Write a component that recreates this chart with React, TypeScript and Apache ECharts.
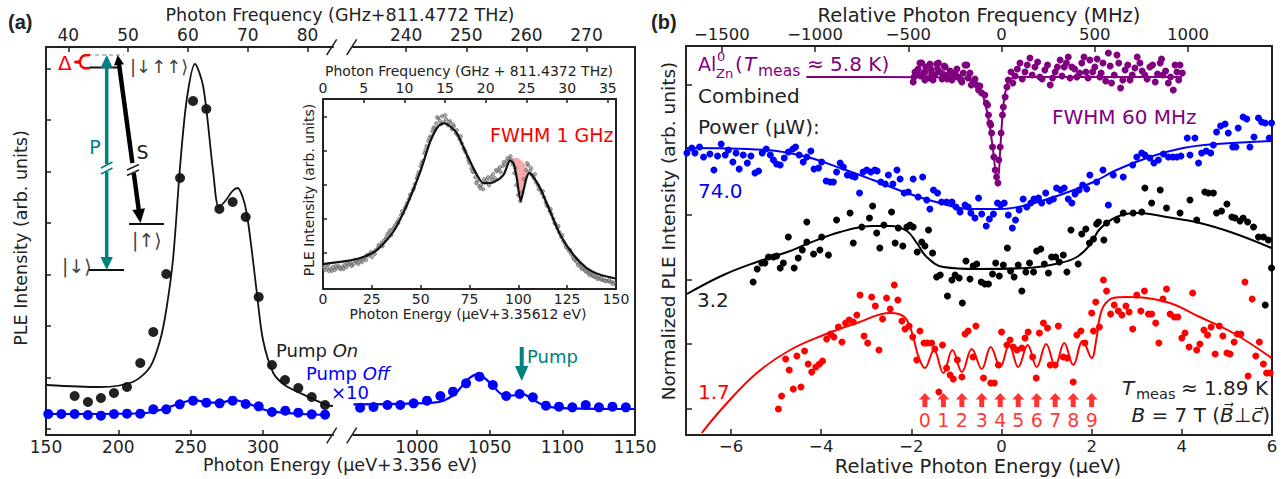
import React, { useEffect, useRef } from "react";
import * as echarts from "echarts";

const FONT = '"DejaVu Sans", "Liberation Sans", sans-serif';
const INK = "#222";
const TEAL = "#008080";
const PURPLE = "#800080";
const BLUE = "#0000ff";
const RED = "#ff0000";
const GHZ_PER_UEV = 0.2418;
const MHZ_PER_UEV = 241.8;

// ---------------- Panel (a): Photon Energy (µeV + 3.356 eV) vs PLE intensity (arb. units)
const aOnEnergy = [169.8, 179.0, 188.0, 197.0, 206.0, 215.2, 224.2, 233.2, 242.7, 251.7, 260.9, 269.9, 279.1, 288.1, 297.1, 306.3, 315.3, 324.5, 333.8, 343.0];
const aOnInt = [39, 33, 37, 42, 48, 72, 103, 161, 257, 334, 326, 226, 233, 218, 138, 70, 55, 47, 38, 30];
const aOnFit = [[150.5, 50], [187, 48], [210, 53], [222, 68], [229, 95], [233.5, 128], [238, 178], [242.7, 268], [247.3, 335], [253, 371], [258.8, 348], [265.7, 262], [269.5, 228], [274, 234], [279, 244], [282.6, 247], [286, 238], [288.8, 222], [292.3, 185], [296, 140], [300.1, 95], [307.2, 62], [315, 50], [325.7, 42], [344, 30], [348.5, 29]];

const aOffLeftEnergy = [151.6, 160.6, 169.8, 179.0, 188.0, 197.0, 206.0, 215.2, 224.2, 233.2, 242.5, 251.7, 260.9, 270.1, 279.1, 288.1, 297.1, 306.3, 315.5, 324.5, 333.8, 343.0];
const aOffLeftInt = [21, 21, 21, 20, 19.3, 21, 21.3, 21.3, 25.7, 25.7, 30.7, 34.3, 32.3, 31.7, 34.3, 31, 28.7, 23, 24.3, 22.3, 20.7, 20.3];
const aOffLeftFit = [[150, 21], [215, 21.5], [229, 25], [243, 31.7], [252, 35], [261, 32.7], [270, 32.3], [279.5, 35], [289, 31.7], [298, 26.7], [307, 23.3], [326, 21], [346, 20]];

const aOffRightEnergy = [960.9, 970.1, 979.7, 988.5, 997.7, 1006.9, 1016.1, 1024.8, 1033.8, 1043.0, 1052.2, 1061.4, 1070.6, 1079.7, 1088.7, 1097.7, 1106.9, 1116.1, 1125.2, 1134.5, 1143.7];
const aOffRightInt = [27.3, 28, 30, 30, 31.7, 34.3, 39, 43.3, 51.7, 58.3, 50, 39, 41, 37.7, 29.3, 28.3, 27.7, 30, 27.7, 28.3, 27.7];
const aOffRightFit = [[956.3, 30.7], [1011.4, 32.3], [1025.2, 40], [1034.5, 55], [1041.4, 60.7], [1050.6, 51.7], [1059.7, 40], [1066, 39.5], [1071.2, 41.7], [1080.4, 35], [1089.7, 28.3], [1103.5, 26.7], [1150, 26]];

const aYTicks = [6, 57.5, 109, 160.5, 212, 263.5, 315, 366.5];
const aBottomTicksL = [150, 200, 250, 300];
const aBottomTicksR = [1000, 1050, 1100, 1150];
const aTopTicksL = [40, 50, 60, 70, 80];
const aTopTicksR = [240, 250, 260, 270];

// ---------------- Inset: Photon Energy (µeV + 3.35612 eV)
const inEnergyTicks = [0, 25, 50, 75, 100, 125, 150];
const inFreqTicks = [0, 5, 10, 15, 20, 25, 30, 35];
const inYTicks = [36, 70.3, 104.5, 138.7, 172.9];
const inFit = [[0, 25], [10.6, 27.6], [19.1, 31], [27.6, 39], [36.1, 57.6], [43, 84.3], [49.8, 117.6], [54.9, 147.6], [59, 163], [62, 166], [65, 163], [68.5, 156], [73.7, 134.3], [78.8, 114.3], [82.2, 106], [87.3, 107], [92.4, 114.3], [95.8, 128.5], [97.5, 126], [99.2, 111], [101.2, 88], [102.8, 100], [104.3, 112], [105.6, 116], [107, 114], [111.2, 101], [116.3, 77.6], [121.4, 54.3], [128.2, 34.3], [135, 21], [141.9, 14.3], [148.7, 11], [150, 10.5]];
const inDipUpper = [[95.3, 127.5], [97.5, 131], [99.5, 131.5], [101.5, 129], [103.5, 124.3], [105.6, 116]];
const inDipLower = [[95.3, 127.5], [97.5, 126], [99.2, 111], [101.2, 88], [102.8, 100], [104.3, 112], [105.6, 116]];
const inPoints = [
  [1, 19], [2, 21], [3, 18], [4, 20], [5, 22], [6, 19], [7, 21], [8, 23], [9, 20], [10, 22], [11, 24], [12, 22], [13, 25], [14, 27], [15, 24], [16, 26], [17, 28], [18, 25], [19, 29], [20, 27],
  [21, 31], [22, 29], [23, 33], [24, 35], [25, 32], [26, 37], [27, 39], [28, 41], [29, 43], [30, 46], [31, 48], [32, 50], [33, 55], [34, 57], [35, 54], [36, 60], [37, 64], [38, 67], [39, 70], [40, 74],
  [41, 76], [42, 81], [43, 86], [44, 90], [45, 95], [46, 99], [47, 105], [48, 111], [49, 117], [50, 123], [51, 128], [52, 136], [53, 143], [54, 148], [55, 153], [56, 158], [57, 162], [58, 166], [59, 171], [60, 168],
  [61, 173], [62, 167], [63, 170], [64, 164], [65, 168], [66, 160], [67, 163], [68, 156], [69, 154], [70, 150], [71, 146], [72, 141], [73, 137], [74, 132], [75, 126], [76, 121], [77, 117], [78, 112], [79, 108], [80, 103],
  [81, 104], [82, 100], [83, 107], [84, 109], [85, 104], [86, 112], [87, 115], [88, 111], [89, 118], [90, 120], [91, 117], [92, 123], [93, 125], [94, 128], [95, 130], [96, 133], [97, 125], [98, 116], [99, 104], [100, 94],
  [101, 88], [102, 97], [103, 110], [104, 119], [105, 124], [106, 118], [107, 114], [108, 111], [109, 107], [110, 104], [111, 100], [112, 96], [113, 92], [114, 87], [115, 83], [116, 78], [117, 75], [118, 70], [119, 65], [120, 61],
  [121, 57], [122, 52], [123, 48], [124, 45], [125, 41], [126, 38], [127, 35], [128, 32], [129, 29], [130, 27], [131, 25], [132, 22], [133, 21], [134, 19], [135, 17], [136, 16], [137, 15], [138, 13], [139, 12], [140, 12],
  [141, 11], [142, 10], [143, 9], [144, 9], [145, 8], [146, 8], [147, 7], [148, 7], [149, 6],
  [0.5, 22], [2.5, 24], [4.5, 18], [6.5, 23], [8.5, 21], [10.5, 20], [12.5, 26], [14.5, 23], [16.5, 29], [18.5, 27], [20.5, 30], [22.5, 34], [24.5, 37], [26.5, 35], [28.5, 44], [30.5, 43], [32.5, 52], [34.5, 59], [36.5, 62], [38.5, 66],
  [40.5, 78], [42.5, 83], [44.5, 94], [46.5, 101], [48.5, 114], [50.5, 126], [52.5, 139], [54.5, 151], [56.5, 161], [58.5, 172], [60.5, 165], [62.5, 174], [64.5, 167], [66.5, 165], [68.5, 159], [70.5, 153], [72.5, 139], [74.5, 129], [76.5, 118], [78.5, 106],
  [80.5, 101], [82.5, 110], [84.5, 112], [86.5, 109], [88.5, 119], [90.5, 122], [92.5, 127], [94.5, 131], [96.5, 129], [98.5, 121], [104.5, 126], [106.5, 121], [108.5, 115], [110.5, 100], [112.5, 98], [114.5, 84], [116.5, 80], [118.5, 66], [120.5, 63], [122.5, 54],
  [124.5, 42], [126.5, 39], [128.5, 30], [130.5, 24], [132.5, 20], [134.5, 18], [136.5, 14], [138.5, 14], [140.5, 10], [142.5, 11], [144.5, 8], [146.5, 9], [148.5, 5],
];

// ---------------- Panel (b): Relative Photon Energy (µeV) vs normalized PLE intensity
const bXTicks = [-6, -4, -2, 0, 2, 4, 6];
const bTopTicks = [-1500, -1000, -500, 0, 500, 1000];
const bYTicks = [26, 91, 155.5, 220, 285, 350];

const bPurple = [
  [-1.96, 353], [-1.92, 363], [-1.88, 362], [-1.81, 372], [-1.77, 372], [-1.73, 362], [-1.70, 363], [-1.70, 355], [-1.59, 371], [-1.55, 362], [-1.52, 355], [-1.44, 371], [-1.40, 372], [-1.36, 363], [-1.32, 356], [-1.25, 368], [-1.18, 360], [-1.10, 355], [-1.03, 362], [-0.96, 358],
  [-0.88, 353], [-0.81, 370], [-0.77, 370], [-0.70, 362], [-0.63, 353], [-0.55, 350], [-0.51, 345], [-0.44, 342], [-0.37, 340], [-0.34, 332], [-0.31, 330], [-0.29, 320], [-0.26, 312], [-0.24, 310], [-0.22, 302], [-0.20, 288], [-0.17, 278], [-0.14, 265], [-0.11, 258], [-0.08, 252],
  [-0.06, 275], [-0.03, 288], [-0.01, 302], [0.02, 320], [0.04, 328], [0.08, 338], [0.12, 348], [0.15, 355], [0.21, 363], [0.30, 359], [0.41, 372], [0.52, 363], [0.63, 377], [0.74, 368], [0.85, 358], [0.96, 365], [1.08, 350], [1.19, 363], [1.30, 375], [1.39, 368],
  [1.48, 378], [1.56, 368], [1.67, 358], [1.78, 372], [1.87, 363], [1.96, 375], [2.07, 368], [2.18, 358], [2.25, 372], [2.37, 382], [2.44, 352], [2.56, 380], [2.64, 347], [2.74, 365], [2.85, 355], [2.96, 367], [3.07, 372], [3.18, 360], [3.29, 368], [3.41, 353],
  [3.52, 372], [3.58, 360], [3.70, 352], [3.81, 345], [3.89, 363], [3.96, 370],
  [-1.94, 358], [-1.85, 366], [-1.79, 359], [-1.68, 368], [-1.62, 357], [-1.57, 366], [-1.48, 360], [-1.42, 366], [-1.30, 361], [-1.27, 369], [-1.21, 356], [-1.14, 364], [-1.06, 358], [-0.99, 366], [-0.92, 356], [-0.85, 362], [-0.74, 357], [-0.67, 350], [-0.59, 356], [-0.48, 349],
  [0.25, 352], [0.35, 366], [0.46, 356], [0.57, 370], [0.68, 360], [0.80, 373], [0.90, 356], [1.02, 370], [1.13, 357], [1.24, 368], [1.34, 359], [1.44, 372], [1.52, 357], [1.62, 366], [1.73, 362], [1.83, 378], [1.92, 357], [2.02, 363], [2.12, 376], [2.21, 362],
  [2.31, 354], [2.41, 369], [2.50, 360], [2.60, 372], [2.69, 355], [2.80, 370], [2.90, 360], [3.01, 378], [3.12, 364], [3.23, 356], [3.35, 370], [3.46, 361], [3.55, 376], [3.64, 364], [3.75, 358], [3.85, 370], [3.93, 355], [4.01, 362],
];
const bPurpleFit = [[-4.33, 358], [-1.0, 357.5], [-0.7, 355], [-0.55, 350], [-0.44, 343], [-0.33, 325], [-0.25, 305], [-0.18, 282], [-0.11, 258], [-0.06, 262], [-0.03, 285], [0.04, 330], [0.12, 350], [0.19, 356], [0.4, 358], [4.0, 358]];

const bBlue = [
  [-6.98, 282], [-6.87, 287], [-6.80, 282], [-6.70, 288], [-6.61, 278], [-6.47, 281], [-6.38, 265], [-6.30, 279], [-6.22, 291], [-6.13, 280], [-6.06, 285], [-5.96, 273], [-5.89, 282], [-5.82, 266], [-5.73, 280], [-5.64, 272], [-5.56, 279], [-5.47, 262], [-5.39, 264], [-5.31, 282],
  [-5.22, 286], [-5.13, 280], [-5.06, 275], [-4.99, 271], [-4.91, 270], [-4.82, 277], [-4.73, 283], [-4.63, 286], [-4.57, 288], [-4.49, 280], [-4.40, 273], [-4.32, 278], [-4.23, 284], [-4.16, 266], [-4.06, 267], [-3.99, 273], [-3.89, 254], [-3.80, 253], [-3.73, 253], [-3.66, 263],
  [-3.58, 272], [-3.51, 268], [-3.42, 260], [-3.32, 259], [-3.25, 258], [-3.15, 242], [-3.07, 263], [-2.99, 265], [-2.90, 263], [-2.81, 265], [-2.76, 264], [-2.68, 253], [-2.58, 251], [-2.51, 260], [-2.41, 251], [-2.32, 265], [-2.25, 256], [-2.16, 242], [-2.07, 243], [-1.96, 256],
  [-1.85, 238], [-1.75, 258], [-1.66, 235], [-1.59, 226], [-1.51, 245], [-1.42, 242], [-1.33, 233], [-1.22, 233], [-1.10, 233], [-1.01, 228], [-0.92, 223], [-0.81, 230], [-0.74, 228], [-0.68, 222], [-0.59, 217], [-0.51, 237], [-0.44, 221], [-0.34, 209], [-0.27, 216], [-0.18, 221],
  [-0.09, 232], [-0.02, 230], [0.06, 232], [0.15, 220], [0.24, 207], [0.31, 215], [0.39, 225], [0.48, 236], [0.56, 228], [0.65, 232], [0.72, 236], [0.82, 237], [0.89, 232], [0.98, 242], [1.06, 234], [1.15, 236], [1.22, 247], [1.31, 245], [1.39, 247], [1.48, 236],
  [1.56, 232], [1.63, 241], [1.72, 245], [1.80, 250], [1.89, 246], [1.96, 260], [2.11, 253], [2.25, 265], [2.37, 230], [2.48, 260], [2.70, 258], [2.91, 270], [3.00, 278], [3.11, 282], [3.18, 280], [3.29, 277], [3.38, 272], [3.48, 275], [3.59, 281], [3.70, 278],
  [3.80, 278], [3.89, 278], [3.98, 279], [4.12, 297], [4.18, 280], [4.29, 297], [4.37, 272], [4.44, 282], [4.54, 284], [4.64, 282], [4.70, 290], [4.77, 303], [4.86, 309], [4.96, 311], [5.03, 302], [5.13, 288], [5.20, 288], [5.25, 307], [5.36, 318], [5.44, 316],
  [5.51, 288], [5.60, 298], [5.70, 317], [5.77, 313], [5.85, 312], [5.94, 297], [5.99, 312],
];
const bBlueFit = [[-6.98, 287], [-5.21, 285], [-4.32, 278], [-3.58, 267], [-2.85, 255], [-2.10, 242], [-1.37, 232], [-0.70, 226], [-0.03, 226], [0.56, 230], [1.30, 240], [2.04, 253], [2.55, 265], [3.29, 278], [4.03, 287], [4.77, 291], [5.99, 294]];

const bBlack = [
  [-5.51, 153], [-5.42, 166], [-5.32, 172], [-5.25, 172], [-5.17, 178], [-5.06, 178], [-4.99, 179], [-4.91, 167], [-4.84, 172], [-4.73, 198], [-4.60, 167], [-4.51, 177], [-4.42, 185], [-4.32, 193], [-4.17, 181], [-4.32, 213], [-4.03, 185], [-3.99, 198], [-3.84, 180], [-3.66, 215],
  [-3.36, 222], [-3.29, 192], [-3.10, 208], [-2.93, 217], [-2.86, 229], [-2.77, 202], [-2.70, 187], [-2.61, 210], [-2.44, 223], [-2.36, 192], [-2.29, 207], [-2.19, 189], [-2.10, 208], [-2.03, 210], [-1.96, 208], [-1.87, 183], [-1.77, 193], [-1.70, 189], [-1.62, 205], [-1.53, 182],
  [-1.44, 158], [-1.36, 160], [-1.20, 139], [-1.10, 155], [-1.03, 160], [-0.94, 157], [-0.87, 132], [-0.79, 174], [-0.70, 156], [-0.63, 169], [-0.55, 171], [-0.45, 153], [-0.37, 151], [-0.29, 151], [-0.20, 161], [-0.13, 172], [-0.05, 159], [0.04, 170], [0.13, 187], [0.20, 164],
  [0.28, 158], [0.37, 170], [0.45, 144], [0.54, 163], [0.62, 172], [0.71, 163], [0.78, 184], [0.87, 186], [0.95, 171], [1.04, 162], [1.11, 178], [1.20, 178], [1.28, 173], [1.37, 180], [1.45, 163], [1.54, 205], [1.70, 171], [1.78, 201], [1.87, 206], [1.95, 192],
  [2.04, 196], [2.11, 211], [2.15, 213], [2.27, 195], [2.33, 212], [2.56, 215], [2.70, 222], [2.92, 222], [3.11, 223], [3.18, 247], [3.33, 232], [3.52, 245], [3.66, 227], [3.96, 222], [4.18, 235], [4.33, 215], [4.51, 243], [4.59, 242], [4.70, 242], [4.77, 222],
  [4.88, 224], [5.00, 231], [5.11, 218], [5.18, 217], [5.29, 214], [5.36, 217], [5.46, 213], [5.59, 208], [5.70, 198], [5.81, 198], [5.85, 130], [5.92, 195], [5.99, 167],
];
const bBlackFit = [[-6.98, 141], [-6.17, 160], [-5.43, 173], [-4.69, 184], [-4.32, 191], [-3.58, 203], [-2.85, 209], [-2.47, 209], [-2.10, 204], [-1.88, 192], [-1.66, 178], [-1.29, 168], [-0.55, 166], [0.56, 167], [1.30, 172], [1.67, 178], [1.96, 190], [2.18, 206], [2.55, 218], [3.00, 222], [3.66, 218], [4.40, 212], [5.14, 202], [5.99, 187]];

const bRed = [
  [-4.95, 26], [-4.88, 39], [-4.79, 76], [-4.71, 65], [-4.62, 46], [-4.54, 79], [-4.45, 48], [-4.37, 84], [-4.29, 71], [-4.21, 63], [-4.12, 68], [-4.04, 71], [-3.97, 74], [-3.88, 96], [-3.79, 101], [-3.72, 98], [-3.62, 108], [-3.54, 93], [-3.46, 112], [-3.38, 115],
  [-3.29, 113], [-3.21, 120], [-3.14, 140], [-3.05, 99], [-2.97, 92], [-2.88, 138], [-2.80, 129], [-2.72, 85], [-2.64, 116], [-2.55, 137], [-2.47, 126], [-2.38, 150], [-2.30, 135], [-2.21, 114], [-2.14, 106], [-2.05, 109], [-1.97, 98], [-1.88, 75], [-1.81, 104], [-1.72, 92],
  [-1.65, 92], [-1.55, 92], [-1.48, 86], [-1.39, 43], [-1.31, 90], [-1.22, 67], [-1.14, 60], [-1.07, 56], [-0.98, 75], [-0.88, 58], [-0.81, 101], [-0.74, 104], [-0.63, 78], [-0.57, 109], [-0.40, 57], [-0.24, 52], [-0.16, 52], [-0.07, 70], [0.00, 103], [0.12, 90],
  [0.19, 95], [0.26, 88], [0.34, 85], [0.45, 87], [0.52, 97], [0.59, 103], [0.69, 78], [0.77, 57], [0.84, 102], [0.93, 112], [1.02, 107], [1.08, 70], [1.19, 70], [1.26, 109], [1.37, 78], [1.46, 77], [1.59, 53], [1.67, 100], [1.76, 104], [1.85, 92],
  [2.00, 122], [2.04, 104], [2.09, 133], [2.17, 108], [2.26, 155], [2.33, 144], [2.42, 121], [2.50, 130], [2.59, 124], [2.67, 120], [2.76, 129], [2.83, 123], [2.91, 106], [3.00, 140], [3.09, 124], [3.17, 144], [3.26, 121], [3.33, 121], [3.42, 112], [3.49, 92],
  [3.58, 136], [3.66, 146], [3.74, 121], [3.83, 118], [3.91, 118], [4.00, 97], [4.07, 102], [4.16, 88], [4.24, 142], [4.33, 85], [4.40, 91], [4.49, 105], [4.57, 100], [4.65, 108], [4.74, 81], [4.83, 109], [4.91, 99], [5.00, 82], [5.07, 81], [5.16, 93],
  [5.23, 101], [5.31, 101], [5.40, 153], [5.47, 59], [5.56, 136], [5.64, 79], [5.72, 93], [5.81, 71], [5.88, 62], [5.96, 62],
];
const bRedFit = [[-6.65, 2], [-6.17, 28], [-5.43, 62], [-4.69, 85], [-3.95, 100], [-3.21, 112], [-2.47, 122], [-2.28, 121], [-2.10, 115], [-1.96, 98], [-1.84, 78], [-1.70, 67], [-1.50, 85], [-1.29, 62], [-1.09, 85], [-0.88, 63], [-0.66, 86], [-0.44, 66], [-0.24, 88], [-0.03, 68], [0.17, 90], [0.37, 68], [0.58, 90], [0.78, 68], [0.99, 91], [1.19, 69], [1.39, 92], [1.59, 70], [1.80, 94], [2.00, 77], [2.10, 95], [2.18, 118], [2.28, 130], [2.48, 137], [2.77, 138], [3.66, 133], [4.40, 118], [5.14, 102], [5.99, 77]];

const bArrowPos = [-1.70, -1.29, -0.88, -0.44, -0.03, 0.37, 0.78, 1.19, 1.59, 2.00];
const bArrowLabels = ["0", "1", "2", "3", "4", "5", "6", "7", "8", "9"];
const bArrowLevel = 35;

// ---------------- helpers
const zip = (xs: number[], ys: number[]) => xs.map((x, i) => [x, ys[i]]);
const fmt = (v: number) => (v < 0 ? "\u2212" + Math.abs(v) : String(v));
const axisLine = { show: true, onZero: false, lineStyle: { color: INK, width: 2 } };
const ticks = (vals: number[], len = 5) => ({ show: true, inside: true, length: len, customValues: vals, lineStyle: { color: INK, width: 1.5 } });
const labels = (vals: number[], size: number, margin: number) => ({ show: true, customValues: vals, fontSize: size, fontFamily: FONT, color: INK, margin, lineHeight: size, formatter: (v: number) => fmt(v) });
const off = { show: false };

const T = (x: number, y: number, text: string, o: any = {}) => ({
  type: "text",
  x,
  y,
  rotation: o.rotation || 0,
  silent: true,
  z: 100,
  style: {
    text,
    fill: o.color || INK,
    fontSize: o.size || 17,
    fontFamily: o.family || FONT,
    fontStyle: o.italic ? "italic" : "normal",
    fontWeight: o.bold ? "bold" : "normal",
    textAlign: o.align || "left",
    textVerticalAlign: "middle",
    rich: o.rich,
  },
});
const L = (x1: number, y1: number, x2: number, y2: number, color = INK, w = 1.5, dash?: number[]) => ({
  type: "line",
  silent: true,
  z: 100,
  shape: { x1, y1, x2, y2 },
  style: { stroke: color, lineWidth: w, lineDash: dash },
});
const P = (points: number[][], color: string) => ({ type: "polygon", silent: true, z: 100, shape: { points }, style: { fill: color } });

function buildOption(): any {
  const italicRich = (color: string, size: number) => ({
    i: { fontStyle: "italic", fontSize: size, fontFamily: FONT, fill: color },
  });

  const graphics: any[] = [
    // ---- panel (a) labels
    T(8, 22, "(a)", { bold: true, size: 20, family: '"Liberation Sans", Arial, sans-serif' }),
    T(340, 15, "Photon Frequency (GHz+811.4772 THz)", { align: "center", size: 17.5 }),
    T(340, 465, "Photon Energy (µeV+3.356 eV)", { align: "center", size: 17.5 }),
    T(21, 238, "PLE Intensity (arb. units)", { align: "center", size: 17.5, rotation: Math.PI / 2 }),
    T(276, 350, "Pump {i|On}", { size: 18, rich: italicRich(INK, 18) }),
    T(306, 373, "Pump {i|Off}", { size: 18, color: BLUE, rich: italicRich(BLUE, 18) }),
    T(331, 392, "×10", { size: 18, color: BLUE }),
    T(527, 356, "Pump", { size: 18, color: TEAL }),
    L(521.7, 347, 521.7, 368, TEAL, 4),
    P([[515, 366], [528.4, 366], [521.7, 381]], TEAL),
    // axis breaks
    L(326.7, 55, 336.7, 39.3, INK, 1.5),
    L(346.7, 55, 356.7, 39.3, INK, 1.5),
    L(326.7, 443.3, 336.7, 427.6, INK, 1.5),
    L(346.7, 443.3, 356.7, 427.6, INK, 1.5),
    // inset labels
    T(469, 71, "Photon Frequency (GHz + 811.4372 THz)", { align: "center", size: 14 }),
    T(468, 314, "Photon Energy (µeV+3.35612 eV)", { align: "center", size: 14 }),
    T(309, 190, "PLE Intensity (arb. units)", { align: "center", size: 14, rotation: Math.PI / 2 }),
    T(490, 135, "FWHM 1 GHz", { size: 19, color: RED }),
    // level diagram
    L(88, 55, 124, 55, "#aaa", 1.5, [4, 3]),
    L(89, 67.5, 121, 67.5, "#111", 2),
    L(129, 224, 164, 224, "#111", 2),
    L(88, 270, 124, 270, "#111", 2),
    {
      type: "polyline",
      silent: true,
      z: 100,
      shape: { points: [[90, 55], [84, 55.5], [81, 58], [80, 61], [75, 62], [80, 63], [81, 66], [84, 68], [90, 68]], smooth: 0.3 },
      style: { stroke: RED, lineWidth: 2.5, fill: "none" },
    },
    T(58, 63, "Δ", { size: 20, color: RED }),
    L(106.7, 64, 106.7, 261, TEAL, 3.5),
    P([[100.5, 68], [112.9, 68], [106.7, 55]], TEAL),
    P([[100.5, 257], [112.9, 257], [106.7, 270]], TEAL),
    L(106.7, 164, 106.7, 172, "#fff", 6),
    L(101, 168, 112.5, 162, TEAL, 1.5),
    L(101, 174, 112.5, 168, TEAL, 1.5),
    T(95, 147, "P", { size: 19, color: TEAL, align: "center" }),
    L(119, 64, 138.9, 211, "#000", 4.5),
    P([[124, 64.2], [114.1, 65.6], [117.7, 55]], "#000"),
    P([[145, 208.3], [132.4, 209.9], [140.5, 223]], "#000"),
    L(132.8, 163, 133.9, 173, "#fff", 7),
    L(127, 170, 139, 164.5, INK, 1.5),
    L(127, 175.5, 139, 170, INK, 1.5),
    T(142.5, 152, "S", { size: 19, color: INK, align: "center" }),
    T(130, 66, "|↓↑↑⟩", { size: 18, color: "#444" }),
    T(132, 240, "|↑⟩", { size: 19, color: "#444" }),
    T(62, 266, "|↓⟩", { size: 19, color: "#444" }),

    // ---- panel (b) labels
    T(651, 22, "(b)", { bold: true, size: 20, family: '"Liberation Sans", Arial, sans-serif' }),
    T(979, 15, "Relative Photon Frequency (MHz)", { align: "center", size: 19.5 }),
    T(978, 466, "Relative Photon Energy (µeV)", { align: "center", size: 19.5 }),
    T(668, 231, "Normalized PLE Intensity (arb. units)", { align: "center", size: 18.5, rotation: Math.PI / 2 }),
    T(698, 64, "Al", { size: 19, color: PURPLE }),
    T(717, 56, "0", { size: 13, color: PURPLE }),
    T(716, 73, "Zn", { size: 13, color: PURPLE }),
    T(735, 64, "(", { size: 20, color: PURPLE }),
    T(744, 64, "T", { size: 20, color: PURPLE, italic: true }),
    T(758, 71, "meas", { size: 15.5, color: PURPLE }),
    T(807, 64, "≈ 5.8 K)", { size: 20, color: PURPLE }),
    T(698, 96, "Combined", { size: 20 }),
    T(698, 127, "Power (µW):", { size: 20 }),
    T(698, 191, "74.0", { size: 20, color: BLUE }),
    T(1052, 117, "FWHM 60 MHz", { size: 20, color: PURPLE }),
    T(697, 300, "3.2", { size: 20 }),
    T(698, 392, "1.7", { size: 20, color: RED }),
    T(1268, 388, "≈ 1.89 K", { size: 20, align: "right" }),
    T(1136, 394, "meas", { size: 14.5 }),
    T(1122, 388, "T", { size: 20, italic: true }),
    T(1270, 415, "{i|B} = 7 T ({i|B\u20D7}⊥{i|c\u20D7})", { size: 20, align: "right", rich: italicRich(INK, 20) }),
  ];

  const scat = (x: number, y: number, data: any[], color: string, size: number, extra: any = {}) => ({
    type: "scatter",
    xAxisIndex: x,
    yAxisIndex: y,
    data,
    symbolSize: size,
    silent: true,
    itemStyle: { color, opacity: 1 },
    ...extra,
  });
  const line = (x: number, y: number, data: any[], color: string, width: number, smooth: number | boolean = 0.3) => ({
    type: "line",
    xAxisIndex: x,
    yAxisIndex: y,
    data,
    symbol: "none",
    smooth,
    silent: true,
    lineStyle: { color, width },
  });

  return {
    animation: false,
    backgroundColor: "#fff",
    grid: [
      { left: 46, top: 47, width: 287, height: 388, containLabel: false, outerBoundsMode: "none" },
      { left: 353, top: 47, width: 282, height: 388, containLabel: false, outerBoundsMode: "none" },
      { left: 323, top: 99, width: 293, height: 190, containLabel: false, outerBoundsMode: "none", show: true, backgroundColor: "#fff", borderWidth: 0 },
      { left: 686, top: 46, width: 586, height: 389, containLabel: false, outerBoundsMode: "none" },
    ],
    xAxis: [
      { gridIndex: 0, type: "value", position: "bottom", min: 150, max: 348.5, axisLine, axisTick: ticks(aBottomTicksL, 5), axisLabel: labels(aBottomTicksL, 17, 3), splitLine: off },
      { gridIndex: 0, type: "value", position: "top", min: 150 * GHZ_PER_UEV, max: 348.5 * GHZ_PER_UEV, axisLine, axisTick: ticks(aTopTicksL, 5), axisLabel: labels(aTopTicksL, 17, 4), splitLine: off },
      { gridIndex: 1, type: "value", position: "bottom", min: 956, max: 1150, axisLine, axisTick: ticks(aBottomTicksR, 5), axisLabel: labels(aBottomTicksR, 17, 3), splitLine: off },
      { gridIndex: 1, type: "value", position: "top", min: 956 * GHZ_PER_UEV, max: 1150 * GHZ_PER_UEV, axisLine, axisTick: ticks(aTopTicksR, 5), axisLabel: labels(aTopTicksR, 17, 4), splitLine: off },
      { gridIndex: 2, type: "value", position: "bottom", min: 0, max: 150, axisLine, axisTick: ticks(inEnergyTicks, 4), axisLabel: labels(inEnergyTicks, 14, 3), splitLine: off },
      { gridIndex: 2, type: "value", position: "top", min: 0, max: 36.0, axisLine, axisTick: ticks(inFreqTicks, 4), axisLabel: labels(inFreqTicks, 14, 4), splitLine: off },
      { gridIndex: 3, type: "value", position: "bottom", min: -7, max: 6, axisLine, axisTick: ticks(bXTicks, 6), axisLabel: labels(bXTicks, 16.5, 3), splitLine: off },
      { gridIndex: 3, type: "value", position: "top", min: -7 * MHZ_PER_UEV, max: 6 * MHZ_PER_UEV, axisLine, axisTick: ticks(bTopTicks, 6), axisLabel: labels(bTopTicks, 16.5, 3), splitLine: off },
    ],
    yAxis: [
      { gridIndex: 0, type: "value", position: "left", min: 0, max: 388, axisLine, axisTick: ticks(aYTicks, 5), axisLabel: off, splitLine: off },
      { gridIndex: 1, type: "value", position: "right", min: 0, max: 388, axisLine, axisTick: off, axisLabel: off, splitLine: off },
      { gridIndex: 2, type: "value", position: "left", min: 0, max: 190.3, axisLine, axisTick: ticks(inYTicks, 4), axisLabel: off, splitLine: off },
      { gridIndex: 2, type: "value", position: "right", min: 0, max: 190.3, axisLine, axisTick: off, axisLabel: off, splitLine: off },
      { gridIndex: 3, type: "value", position: "left", min: 0, max: 389, axisLine, axisTick: ticks(bYTicks, 6), axisLabel: off, splitLine: off },
      { gridIndex: 3, type: "value", position: "right", min: 0, max: 389, axisLine, axisTick: off, axisLabel: off, splitLine: off },
    ],
    graphic: { elements: graphics },
    series: [
      // (a) pump on / off
      scat(0, 0, zip(aOnEnergy, aOnInt), INK, 10),
      line(0, 0, aOnFit, "#111", 1.8, 0.3),
      scat(0, 0, zip(aOffLeftEnergy, aOffLeftInt), BLUE, 10),
      line(0, 0, aOffLeftFit, BLUE, 2.2, 0.4),
      scat(2, 1, zip(aOffRightEnergy, aOffRightInt), BLUE, 10),
      line(2, 1, aOffRightFit, BLUE, 2.2, 0.4),
      // inset
      {
        type: "custom",
        xAxisIndex: 4,
        yAxisIndex: 2,
        silent: true,
        data: [[100, 110]],
        renderItem: (_p: any, api: any) => {
          const pts = [...inDipUpper, ...inDipLower.slice().reverse()].map((p) => api.coord(p));
          return { type: "polygon", shape: { points: pts, smooth: 0.2 }, style: { fill: "#f7a8a8" } };
        },
      },
      scat(4, 2, inPoints, "#888", 3.5, { itemStyle: { color: "#999", borderColor: "#444", borderWidth: 0.6 } }),
      line(4, 2, inFit, "#111", 2.2, 0.25),
      // (b)
      scat(6, 4, bPurple, PURPLE, 7),
      line(6, 4, bPurpleFit, PURPLE, 2, 0.2),
      scat(6, 4, bBlue, BLUE, 7),
      line(6, 4, bBlueFit, BLUE, 2, 0.4),
      scat(6, 4, bBlack, "#000", 7),
      line(6, 4, bBlackFit, "#000", 2, 0.4),
      scat(6, 4, bRed, RED, 7),
      line(6, 4, bRedFit, RED, 2, 0.4),
      {
        type: "scatter",
        xAxisIndex: 6,
        yAxisIndex: 4,
        silent: true,
        symbol: "path://M6,0 L12,6 L8.5,6 L8.5,13 L3.5,13 L3.5,6 L0,6 Z",
        symbolSize: [12, 14],
        itemStyle: { color: RED },
        data: bArrowPos.map((x, i) => ({ value: [x, bArrowLevel], label: { formatter: bArrowLabels[i] } })),
        label: { show: true, position: "bottom", distance: 3, color: RED, fontSize: 19, fontFamily: FONT },
      },
    ],
  };
}

export default function App() {
  const ref = useRef<HTMLDivElement>(null);
  useEffect(() => {
    document.body.style.margin = "0";
    const chart = echarts.init(ref.current as HTMLDivElement, undefined, { renderer: "svg" });
    chart.setOption(buildOption());
    return () => chart.dispose();
  }, []);
  return <div ref={ref} style={{ width: 1287, height: 479, background: "#fff" }} />;
}
